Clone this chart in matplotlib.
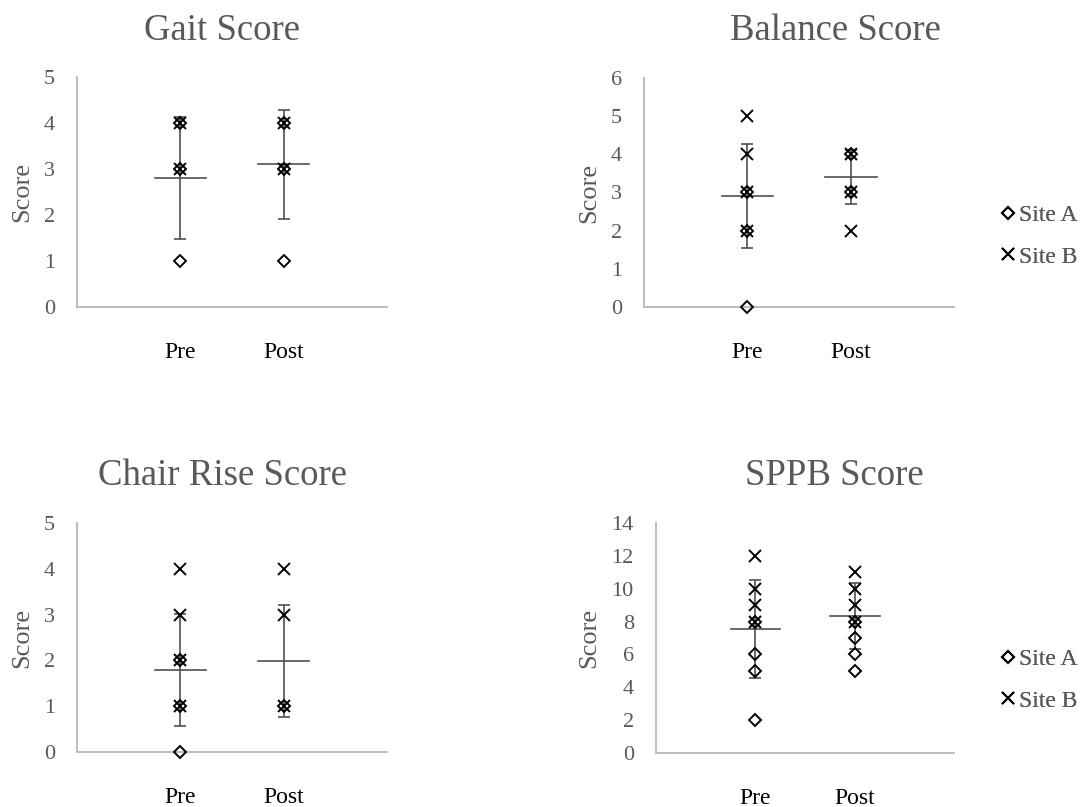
import matplotlib
matplotlib.use("Agg")
import matplotlib.pyplot as plt
from matplotlib.lines import Line2D

plt.rcParams["font.family"] = ["Liberation Serif", "DejaVu Serif"]

# ---- data -------------------------------------------------------------
phases = ["Pre", "Post"]
series_names = ["Site A", "Site B"]

gait_title = "Gait Score"
gait_pre_a = [1, 3, 4]
gait_pre_b = [3, 4]
gait_post_a = [1, 3, 4]
gait_post_b = [3, 4]
gait_mean = [2.81, 3.10]
gait_sd = [1.33, 1.19]
gait_ticks = [0, 1, 2, 3, 4, 5]

balance_title = "Balance Score"
balance_pre_a = [0, 2, 3]
balance_pre_b = [2, 3, 4, 5]
balance_post_a = [3, 4]
balance_post_b = [2, 3, 4]
balance_mean = [2.91, 3.41]
balance_sd = [1.37, 0.70]
balance_ticks = [0, 1, 2, 3, 4, 5, 6]

chair_title = "Chair Rise Score"
chair_pre_a = [0, 1, 2]
chair_pre_b = [1, 2, 3, 4]
chair_post_a = [1]
chair_post_b = [1, 3, 4]
chair_mean = [1.79, 1.99]
chair_sd = [1.22, 1.22]
chair_ticks = [0, 1, 2, 3, 4, 5]

sppb_title = "SPPB Score"
sppb_pre_a = [2, 5, 6, 8]
sppb_pre_b = [8, 9, 10, 12]
sppb_post_a = [5, 6, 7, 8]
sppb_post_b = [8, 9, 10, 11]
sppb_mean = [7.54, 8.34]
sppb_sd = [2.99, 1.98]
sppb_ticks = [0, 2, 4, 6, 8, 10, 12, 14]

# ---- styling ----------------------------------------------------------
W, H = 1087, 807
TEXT = "#595959"
AXIS = "#BFBFBF"
BAR = "#505050"

fig = plt.figure(figsize=(W / 100, H / 100), dpi=100)


def px_axes(left, top, right, bottom):
    return fig.add_axes([left / W, 1 - bottom / H, (right - left) / W, (bottom - top) / H])


def panel(box, ylabel_x, title, title_xy, legend_y,
          pre_a, pre_b, post_a, post_b, mean, sd, ticks):
    ax = px_axes(*box)
    left, top, right, bottom = box
    x_pos = [1, 2]

    # individual observations
    ax.plot([x_pos[0]] * len(pre_a) + [x_pos[1]] * len(post_a), pre_a + post_a,
            ls="none", marker="D", ms=6.2, mfc="none", mec="black", mew=1.4,
            zorder=3, clip_on=False)
    ax.plot([x_pos[0]] * len(pre_b) + [x_pos[1]] * len(post_b), pre_b + post_b,
            ls="none", marker="x", ms=9, mec="black", mew=1.4, zorder=3, clip_on=False)

    # mean with SD error bars
    ax.errorbar(x_pos, mean, yerr=sd, fmt="none", ecolor=BAR, elinewidth=1.2,
                capsize=4, capthick=1.2, zorder=2)
    for x, m in zip(x_pos, mean):
        ax.plot([x - 0.25, x + 0.25], [m, m], color=BAR, lw=1.2, zorder=2)

    ax.set_xlim(0, 3)
    ax.set_ylim(ticks[0], ticks[-1])
    ax.set_yticks(ticks)
    ax.set_xticks(x_pos)
    ax.set_xticklabels(phases)
    ax.tick_params(axis="y", length=0, pad=16, labelsize=16, labelcolor=TEXT)
    ax.tick_params(axis="x", length=0, pad=25, labelsize=17, labelcolor="black")
    for s in ("top", "right"):
        ax.spines[s].set_visible(False)
    for s in ("left", "bottom"):
        ax.spines[s].set_color(AXIS)
        ax.spines[s].set_linewidth(1.5)
    ax.patch.set_alpha(0)

    ax.set_ylabel("Score", fontsize=19, color=TEXT)
    ax.yaxis.set_label_coords((ylabel_x - left) / (right - left), 0.5)

    fig.text(title_xy[0] / W, 1 - title_xy[1] / H, title, fontsize=26.5,
             color=TEXT, ha="center", va="baseline")

    handles = [
        Line2D([], [], ls="none", marker="D", ms=6.2, mfc="none", mec="black", mew=1.4),
        Line2D([], [], ls="none", marker="x", ms=9, mec="black", mew=1.4),
    ]
    leg = fig.legend(handles, series_names, loc="center left",
                     bbox_to_anchor=(1001 / W, 1 - legend_y / H),
                     frameon=False, fontsize=17, handlelength=0.6,
                     handletextpad=0.17, labelspacing=0.85, borderpad=0,
                     borderaxespad=0)
    for t in leg.get_texts():
        t.set_color(TEXT)
    return ax


panel((77, 77, 387, 307), 33, gait_title, (222, 40), 236,
      gait_pre_a, gait_pre_b, gait_post_a, gait_post_b, gait_mean, gait_sd, gait_ticks)
panel((644, 78, 954, 307), 600, balance_title, (835, 40), 236,
      balance_pre_a, balance_pre_b, balance_post_a, balance_post_b,
      balance_mean, balance_sd, balance_ticks)
panel((77, 523, 387, 752), 33, chair_title, (222, 485), 680,
      chair_pre_a, chair_pre_b, chair_post_a, chair_post_b, chair_mean, chair_sd, chair_ticks)
panel((656, 523, 954, 753), 600, sppb_title, (834, 485), 680,
      sppb_pre_a, sppb_pre_b, sppb_post_a, sppb_post_b, sppb_mean, sppb_sd, sppb_ticks)

fig.savefig("out.png", dpi=100, facecolor="white")
